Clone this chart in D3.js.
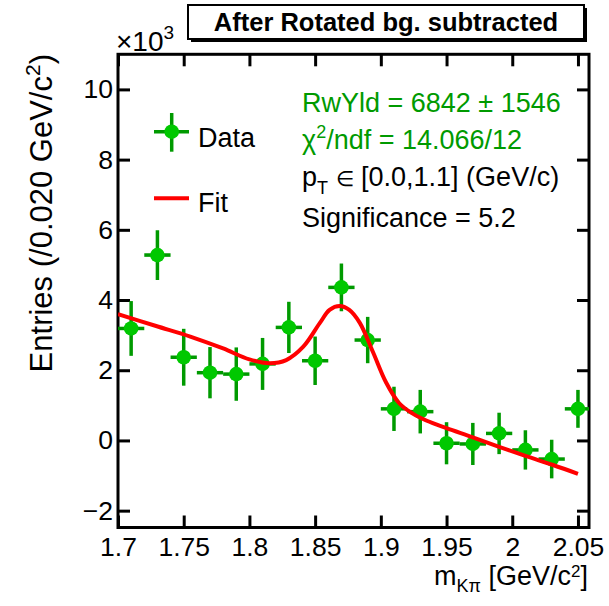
<!DOCTYPE html>
<html>
<head>
<meta charset="utf-8">
<script src="https://cdn.jsdelivr.net/npm/d3@7"></script>
<style>
  body { margin: 0; background: #fff; }
  text { font-family: "Liberation Sans", Arial, sans-serif; }
</style>
</head>
<body>
<div id="chart"></div>
<script>
// bin centres (GeV/c^2), counts (x10^3) and their errors
const massBins = [1.71, 1.73, 1.75, 1.77, 1.79, 1.81, 1.83, 1.85, 1.87, 1.89,
                  1.91, 1.93, 1.95, 1.97, 1.99, 2.01, 2.03, 2.05];
const entries = [3.19, 5.28, 2.37, 1.93, 1.89, 2.18, 3.22, 2.27, 4.36, 2.86,
                 0.90, 0.82, -0.08, -0.10, 0.20, -0.27, -0.53, 0.90];
const entryErrors = [0.78, 0.71, 0.81, 0.73, 0.76, 0.74, 0.73, 0.69, 0.68, 0.66,
                     0.63, 0.62, 0.60, 0.60, 0.59, 0.56, 0.55, 0.54];
const binHalfWidth = 0.01;

// fit curve
const fitMass = [1.700, 1.729, 1.755, 1.780, 1.800, 1.8155, 1.828, 1.841, 1.8535, 1.861,
                 1.8687, 1.876, 1.884, 1.894, 1.904, 1.914, 1.924, 1.935, 1.950, 1.970,
                 1.990, 2.010, 2.031, 2.050];
const fitValues = [3.60, 3.26, 2.96, 2.62, 2.31, 2.20, 2.29, 2.67, 3.34, 3.72,
                   3.83, 3.72, 3.35, 2.52, 1.65, 1.06, 0.77, 0.56, 0.35, 0.09,
                   -0.18, -0.44, -0.70, -0.95];

const xTicks = [1.7, 1.75, 1.8, 1.85, 1.9, 1.95, 2.0, 2.05];
const xTickLabels = ["1.7", "1.75", "1.8", "1.85", "1.9", "1.95", "2", "2.05"];
const yTicks = [-2, 0, 2, 4, 6, 8, 10];
const yTickLabels = ["\u22122", "0", "2", "4", "6", "8", "10"];

const W = 609, H = 606;
const frame = { left: 118, right: 589, top: 54.3, bottom: 527.5 };
const green = "#009a00", markerGreen = "#00c800";
const fs = 27;

const svg = d3.select("#chart").append("svg")
    .attr("width", W)
    .attr("height", H);

const x = d3.scaleLinear().domain([1.7, 2.0584]).range([frame.left, frame.right]);
const y = d3.scaleLinear().domain([-2.48, 11.0]).range([frame.bottom, frame.top]);

// title box with shadow
svg.append("rect").attr("x", 191).attr("y", 8).attr("width", 396).attr("height", 34).attr("fill", "#000");
svg.append("rect").attr("x", 188).attr("y", 5).attr("width", 396).attr("height", 34)
    .attr("fill", "#fff").attr("stroke", "#000").attr("stroke-width", 2);
svg.append("text").attr("x", 386).attr("y", 31).attr("text-anchor", "middle")
    .attr("font-size", 25.5).attr("font-weight", "bold")
    .text("After Rotated bg. subtracted");

// axes (ROOT style: ticks inside, on all four sides)
const tick = 12;
svg.append("g")
    .attr("transform", `translate(0,${frame.bottom})`)
    .call(d3.axisBottom(x).tickValues(xTicks).tickSizeInner(-tick).tickSizeOuter(0).tickPadding(10)
        .tickFormat((d, i) => xTickLabels[i]));
svg.append("g")
    .attr("transform", `translate(0,${frame.top})`)
    .call(d3.axisTop(x).tickValues(xTicks).tickSizeInner(-tick).tickSizeOuter(0).tickFormat(""));
svg.append("g")
    .attr("transform", `translate(${frame.left},0)`)
    .call(d3.axisLeft(y).tickValues(yTicks).tickSizeInner(-tick).tickSizeOuter(0).tickPadding(5)
        .tickFormat((d, i) => yTickLabels[i]));
svg.append("g")
    .attr("transform", `translate(${frame.right},0)`)
    .call(d3.axisRight(y).tickValues(yTicks).tickSizeInner(-tick).tickSizeOuter(0).tickFormat(""));

svg.selectAll(".domain").remove();
svg.selectAll(".tick line").attr("stroke", "#000").attr("stroke-width", 3);
svg.selectAll(".tick text")
    .attr("font-family", "'Liberation Sans', Arial, sans-serif")
    .attr("font-size", 26.5).attr("fill", "#000");

svg.append("rect")
    .attr("x", frame.left).attr("y", frame.top)
    .attr("width", frame.right - frame.left).attr("height", frame.bottom - frame.top)
    .attr("fill", "none").attr("stroke", "#000").attr("stroke-width", 3);

// x10^3 multiplier
const mult = svg.append("text").attr("x", 116).attr("y", 50.5).attr("font-size", 28);
mult.append("tspan").text("\u00d710");
mult.append("tspan").attr("dy", -12).attr("font-size", 19).text("3");

// axis titles
const yTitle = svg.append("text")
    .attr("transform", "translate(52,54) rotate(-90)")
    .attr("text-anchor", "end").attr("font-size", 31);
yTitle.append("tspan").text("Entries (/0.020 GeV/c");
yTitle.append("tspan").attr("dy", -12).attr("font-size", 21).text("2");
yTitle.append("tspan").attr("dy", 12).text(")");

const xTitle = svg.append("text")
    .attr("x", 588).attr("y", 584.5).attr("text-anchor", "end").attr("font-size", fs);
xTitle.append("tspan").text("m");
xTitle.append("tspan").attr("dy", 7).attr("font-size", 18).text("K\u03c0");
xTitle.append("tspan").attr("dy", -7).text(" [GeV/c");
xTitle.append("tspan").attr("dy", -8).attr("font-size", 17).text("2");
xTitle.append("tspan").attr("dy", 8).text("]");

// data points
svg.append("clipPath").attr("id", "frameClip").append("rect")
    .attr("x", frame.left).attr("y", frame.top)
    .attr("width", frame.right - frame.left).attr("height", frame.bottom - frame.top);

const points = massBins.map((m, i) => ({ m: m, v: entries[i], e: entryErrors[i] }));
const plot = svg.append("g").attr("clip-path", "url(#frameClip)");

const pts = plot.selectAll(".pt").data(points).enter().append("g").attr("class", "pt");
pts.append("line")
    .attr("x1", d => x(d.m - binHalfWidth)).attr("x2", d => x(d.m + binHalfWidth))
    .attr("y1", d => y(d.v)).attr("y2", d => y(d.v))
    .attr("stroke", green).attr("stroke-width", 3.5);
pts.append("line")
    .attr("x1", d => x(d.m)).attr("x2", d => x(d.m))
    .attr("y1", d => y(d.v - d.e)).attr("y2", d => y(d.v + d.e))
    .attr("stroke", green).attr("stroke-width", 3.5);
pts.append("circle")
    .attr("cx", d => x(d.m)).attr("cy", d => y(d.v)).attr("r", 7.3)
    .attr("fill", markerGreen);

// fit
const fitLine = d3.line()
    .x(d => x(d[0])).y(d => y(d[1]))
    .curve(d3.curveCatmullRom);
plot.append("path")
    .datum(fitMass.map((m, i) => [m, fitValues[i]]))
    .attr("d", fitLine)
    .attr("fill", "none").attr("stroke", "#ff0000").attr("stroke-width", 4);

// legend
svg.append("line").attr("x1", 154).attr("x2", 189).attr("y1", 131.7).attr("y2", 131.7)
    .attr("stroke", green).attr("stroke-width", 3.5);
svg.append("line").attr("x1", 171.7).attr("x2", 171.7).attr("y1", 113).attr("y2", 151.7)
    .attr("stroke", green).attr("stroke-width", 3.5);
svg.append("circle").attr("cx", 171.7).attr("cy", 131.7).attr("r", 7.3).attr("fill", markerGreen);
svg.append("text").attr("x", 198).attr("y", 146.7).attr("font-size", fs).text("Data");

svg.append("line").attr("x1", 154).attr("x2", 189).attr("y1", 198.3).attr("y2", 198.3)
    .attr("stroke", "#ff0000").attr("stroke-width", 4);
svg.append("text").attr("x", 198).attr("y", 211.7).attr("font-size", fs).text("Fit");

// fit results
svg.append("text").attr("x", 302).attr("y", 112).attr("font-size", fs).attr("fill", green)
    .text("RwYld = 6842 \u00b1 1546");
const chi = svg.append("text").attr("x", 302).attr("y", 148.5).attr("font-size", fs).attr("fill", green);
chi.append("tspan").text("\u03c7");
chi.append("tspan").attr("dy", -11).attr("font-size", 18).text("2");
chi.append("tspan").attr("dy", 11).text("/ndf = 14.066/12");
const pt = svg.append("text").attr("x", 302).attr("y", 186).attr("font-size", fs);
pt.append("tspan").text("p");
pt.append("tspan").attr("dy", 8).attr("font-size", 18).text("T");
pt.append("tspan").attr("dy", -8).text(" ");
pt.append("tspan").attr("font-size", 21).text("\u2208");
pt.append("tspan").text(" [0.0,1.1] (GeV/c)");
svg.append("text").attr("x", 302).attr("y", 226.5).attr("font-size", fs)
    .text("Significance = 5.2");
</script>
</body>
</html>
